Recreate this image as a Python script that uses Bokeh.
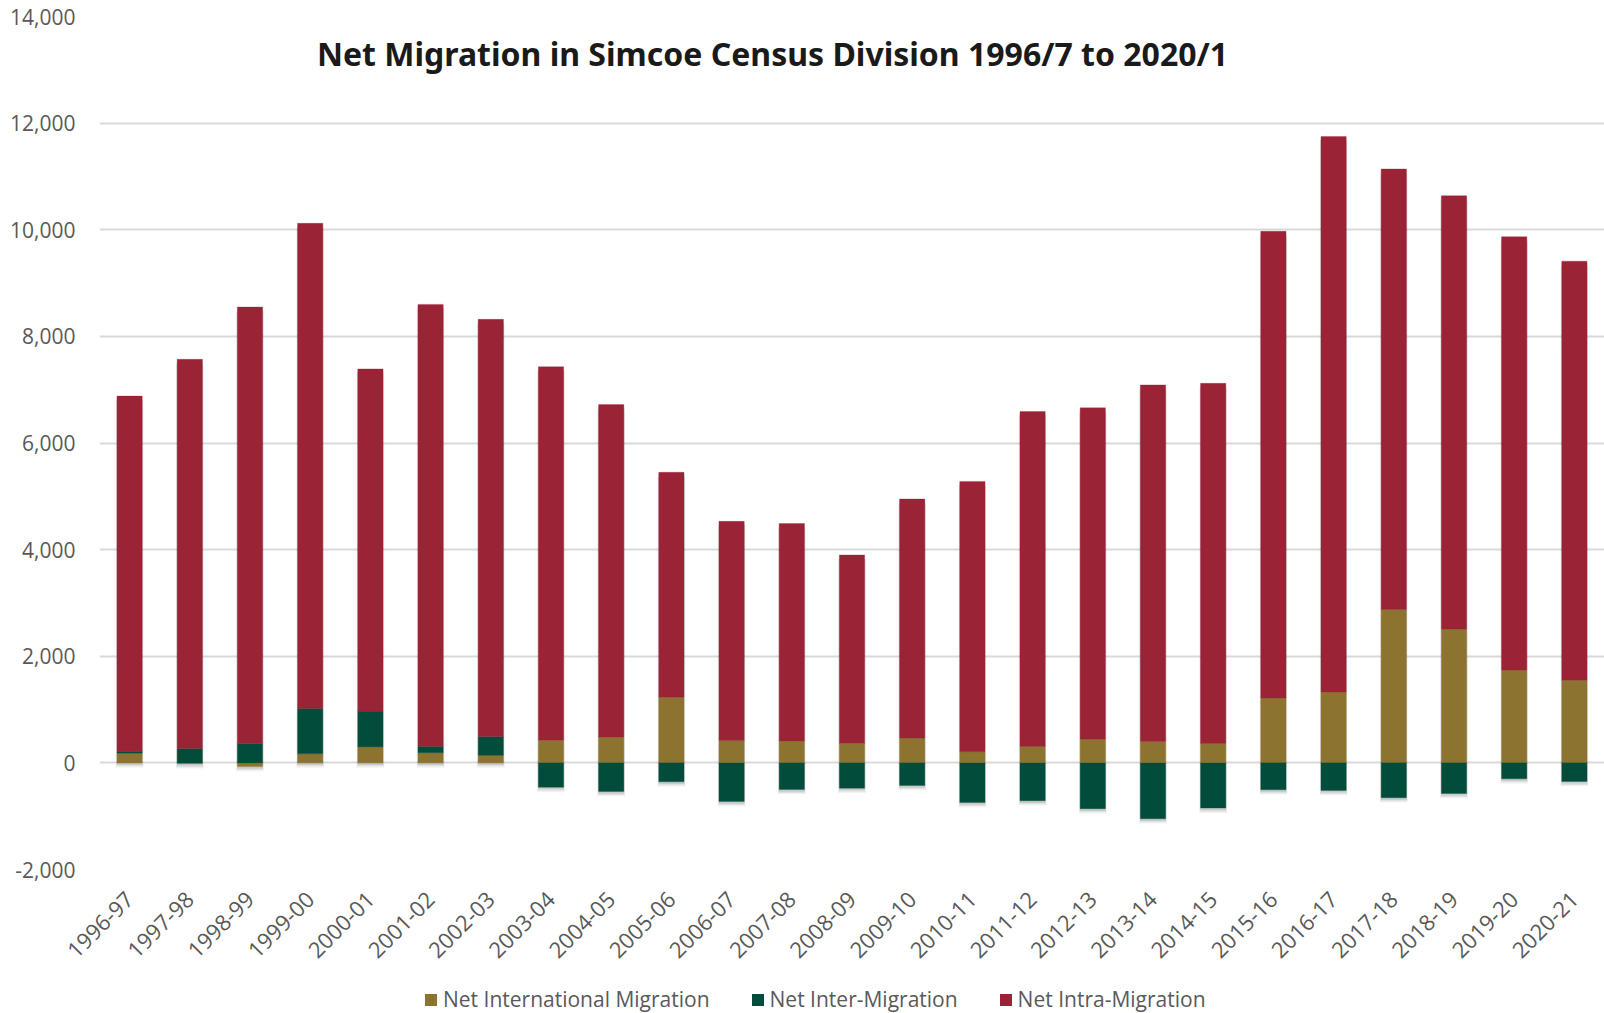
import numpy as np
from bokeh.plotting import figure
from bokeh.layouts import column
from bokeh.models import FactorRange, Legend, LegendItem, Label, NumeralTickFormatter, FixedTicker
from bokeh.embed import file_html
from bokeh.resources import INLINE

# Net migration components by census year (persons)
years = ["1996-97", "1997-98", "1998-99", "1999-00", "2000-01", "2001-02", "2002-03",
         "2003-04", "2004-05", "2005-06", "2006-07", "2007-08", "2008-09", "2009-10",
         "2010-11", "2011-12", "2012-13", "2013-14", "2014-15", "2015-16", "2016-17",
         "2017-18", "2018-19", "2019-20", "2020-21"]
net_international = [180, -15, -70, 170, 300, 190, 140, 425, 487, 1230, 418, 412, 367, 468,
                     210, 307, 444, 400, 363, 1217, 1330, 2878, 2509, 1742, 1549]
net_inter = [40, 270, 365, 850, 670, 120, 355, -457, -537, -356, -725, -500, -475, -425,
             -745, -711, -861, -1049, -848, -505, -517, -655, -573, -300, -348]
net_intra = [6660, 7300, 8185, 9100, 6420, 8290, 7825, 7005, 6233, 4220, 4112, 4078, 3533,
             4482, 5070, 6283, 6216, 6690, 6757, 8753, 10420, 8262, 8131, 8128, 7861]

y_ticks = [-2000, 0, 2000, 4000, 6000, 8000, 10000, 12000, 14000]

series = [
    ("Net International Migration", net_international, "#8C7430"),
    ("Net Inter-Migration", net_inter, "#014C3A"),
    ("Net Intra-Migration", net_intra, "#9B2336"),
]

GRAY = "#595959"
FONT = "Open Sans"

p = figure(width=1604, height=980, x_range=FactorRange(*years, range_padding=0),
           y_range=(-2000, 14000), output_backend="svg", toolbar_location=None,
           min_border_left=99, min_border_right=0, min_border_top=16, min_border_bottom=111)
p.outline_line_color = None
p.background_fill_color = "white"
p.border_fill_color = "white"

# Axes styling
p.yaxis.ticker = FixedTicker(ticks=y_ticks)
p.yaxis.formatter = NumeralTickFormatter(format="0,0")
for ax in (p.xaxis[0], p.yaxis[0]):
    ax.axis_line_color = None
    ax.major_tick_line_color = None
    ax.minor_tick_line_color = None
    ax.major_label_text_color = GRAY
    ax.major_label_text_font = FONT
p.yaxis.major_label_text_font_size = "21px"
p.xaxis.major_label_text_font_size = "22px"
p.yaxis.major_label_standoff = 18
p.xaxis.major_label_orientation = np.pi / 4
p.xaxis.major_label_standoff = 20
p.xgrid.grid_line_color = None
p.ygrid.ticker = FixedTicker(ticks=y_ticks)
p.ygrid.grid_line_color = "#D9D9D9"
p.ygrid.grid_line_width = 2

# Stack positives upward and negatives downward from zero
n = len(years)
pos_base = np.zeros(n)
neg_base = np.zeros(n)
stacks = []
for name, vals, color in series:
    v = np.array(vals, dtype=float)
    bottom = np.where(v >= 0, pos_base, neg_base)
    top = bottom + v
    pos_base = np.where(v >= 0, top, pos_base)
    neg_base = np.where(v < 0, top, neg_base)
    stacks.append((name, bottom, top, color))

# Soft drop shadow under each bar
for w, off, a in [(0.46, 90, 0.05), (0.445, 65, 0.07), (0.43, 40, 0.09)]:
    p.vbar(x=years, bottom=neg_base - off, top=pos_base - off, width=w,
           fill_color="black", fill_alpha=a, line_color=None)

for name, bottom, top, color in stacks:
    p.vbar(x=years, bottom=bottom, top=top, width=0.42, fill_color=color,
           line_color=color, line_alpha=0.6, line_width=0.5)

title = Label(x=11.18, y=13300, text="Net Migration in Simcoe Census Division 1996/7 to 2020/1",
              text_font="Noto Sans", text_font_style="bold", text_font_size="32px",
              text_color="#1A1A1A", text_align="center", text_baseline="middle")
p.add_layout(title)

# Legend strip along the bottom of the page (zero-height swatch renderers)
leg = figure(width=1604, height=33, x_range=(0, 1), y_range=(0, 1), output_backend="svg",
             toolbar_location=None, min_border=0, min_border_left=0, min_border_right=0,
             min_border_top=0, min_border_bottom=0,
             x_axis_location=None, y_axis_location=None)
leg.outline_line_color = None
leg.xgrid.grid_line_color = None
leg.ygrid.grid_line_color = None
items = []
for name, vals, color in series:
    r = leg.vbar(x=[0.5], bottom=[0], top=[0], width=0, fill_color=color, line_color=None)
    items.append(LegendItem(label=name, renderers=[r]))
legend = Legend(items=items, orientation="horizontal", location=(324, 0),
                label_text_font=FONT, label_text_font_size="21px", label_text_color=GRAY,
                glyph_width=15, glyph_height=15, label_standoff=5, spacing=40,
                border_line_color=None, background_fill_alpha=0, padding=0, margin=0)
leg.add_layout(legend)

layout = column(p, leg, spacing=0)
open("out.html", "w").write(file_html(layout, INLINE))
